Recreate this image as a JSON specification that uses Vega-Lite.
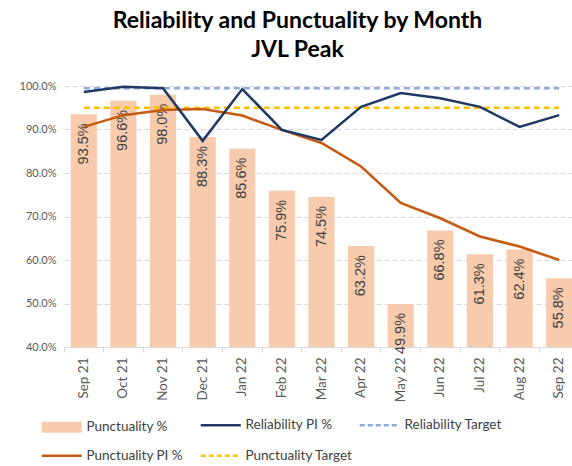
{
  "$schema": "https://vega.github.io/schema/vega-lite/v6.json",
  "width": 515,
  "height": 261,
  "autosize": {"type": "none"},
  "padding": {"left": 64, "top": 86, "right": -7, "bottom": 119},
  "background": "white",
  "title": {
    "text": ["Reliability and Punctuality by Month", "JVL Peak"],
    "font": "Lato",
    "fontSize": 23,
    "fontWeight": "bold",
    "color": "#000000",
    "lineHeight": 29,
    "anchor": "middle",
    "offset": 18,
    "dx": -24
  },
  "config": {
    "view": {"stroke": null},
    "axis": {"labelFont": "Lato", "labelColor": "#595959", "titleFont": "Lato"},
    "legend": {"labelFont": "Lato"}
  },
  "data": {
    "values": [
      {"month": "Sep 21", "punct": 0.935, "rel": 0.986, "ppi": 0.906, "relT": 0.995, "punT": 0.95},
      {"month": "Oct 21", "punct": 0.966, "rel": 0.998, "ppi": 0.933, "relT": 0.995, "punT": 0.95},
      {"month": "Nov 21", "punct": 0.980, "rel": 0.995, "ppi": 0.945, "relT": 0.995, "punT": 0.95},
      {"month": "Dec 21", "punct": 0.883, "rel": 0.874, "ppi": 0.947, "relT": 0.995, "punT": 0.95},
      {"month": "Jan 22", "punct": 0.856, "rel": 0.993, "ppi": 0.932, "relT": 0.995, "punT": 0.95},
      {"month": "Feb 22", "punct": 0.759, "rel": 0.899, "ppi": 0.899, "relT": 0.995, "punT": 0.95},
      {"month": "Mar 22", "punct": 0.745, "rel": 0.876, "ppi": 0.869, "relT": 0.995, "punT": 0.95},
      {"month": "Apr 22", "punct": 0.632, "rel": 0.952, "ppi": 0.815, "relT": 0.995, "punT": 0.95},
      {"month": "May 22", "punct": 0.499, "rel": 0.984, "ppi": 0.731, "relT": 0.995, "punT": 0.95},
      {"month": "Jun 22", "punct": 0.668, "rel": 0.972, "ppi": 0.696, "relT": 0.995, "punT": 0.95},
      {"month": "Jul 22", "punct": 0.613, "rel": 0.952, "ppi": 0.654, "relT": 0.995, "punT": 0.95},
      {"month": "Aug 22", "punct": 0.624, "rel": 0.906, "ppi": 0.631, "relT": 0.995, "punT": 0.95},
      {"month": "Sep 22", "punct": 0.558, "rel": 0.933, "ppi": 0.600, "relT": 0.995, "punT": 0.95}
    ]
  },
  "encoding": {
    "x": {
      "field": "month",
      "type": "nominal",
      "sort": null,
      "scale": {"paddingInner": 0, "paddingOuter": 0},
      "axis": {
        "title": null,
        "labelAngle": -90,
        "labelFontSize": 13.5,
        "labelPadding": 5,
        "domainColor": "#d9d9d9",
        "tickColor": "#d9d9d9",
        "tickSize": 5,
        "bandPosition": 0,
        "grid": false
      }
    }
  },
  "layer": [
    {
      "mark": {"type": "bar", "color": "#F8CBAD", "width": {"band": 0.66}},
      "encoding": {
        "y": {
          "field": "punct",
          "type": "quantitative",
          "scale": {"domain": [0.4, 1.0], "zero": false, "nice": false},
          "axis": {
            "title": null,
            "format": ".1%",
            "values": [0.4, 0.5, 0.6, 0.7, 0.8, 0.9, 1.0],
            "labelFontSize": 11,
            "labelPadding": 8,
            "domain": false,
            "ticks": false,
            "grid": true,
            "gridColor": "#d9d9d9",
            "gridDash": [5, 3],
            "gridWidth": 1
          }
        },
        "y2": {"datum": 0.4},
        "color": {
          "datum": "Punctuality %",
          "type": "nominal",
          "scale": {
            "domain": ["Punctuality %", "Reliability PI %", "Reliability Target", "Punctuality PI %", "Punctuality Target"],
            "range": ["#F8CBAD", "#1F3864", "#8FAADC", "#C55A11", "#FFC000"]
          },
          "legend": {
            "title": null,
            "orient": "none",
            "legendX": -9,
            "legendY": 332,
            "direction": "horizontal",
            "columns": 3,
            "gridAlign": "all",
            "columnPadding": 1,
            "rowPadding": 9,
            "symbolType": "M-2,-0.55M-2,0.55M-2,0H2",
            "symbolSize": 400,
            "symbolOpacity": 1,
            "labelOffset": 18,
            "labelFontSize": 13.5,
            "labelColor": "#404040",
            "labelLimit": 200,
            "encode": {
              "symbols": {
                "update": {
                  "shape": {"signal": "datum.value === 'Punctuality %' ? 'M-2,-0.55H2V0.55H-2Z' : 'M-2,-0.55M-2,0.55M-2,0H2'"},
                  "fill": {"signal": "datum.value === 'Punctuality %' ? '#F8CBAD' : 'transparent'"},
                  "stroke": {"scale": "color", "field": "value"},
                  "strokeWidth": {"signal": "datum.value === 'Punctuality %' ? 0 : 2.5"},
                  "strokeDash": {"signal": "(datum.value === 'Reliability Target' || datum.value === 'Punctuality Target') ? [5, 3] : [1, 0]"},
                  "opacity": {"value": 1}
                }
              }
            }
          }
        }
      }
    },
    {
      "mark": {"type": "text", "angle": 270, "align": "right", "baseline": "middle", "dx": -9, "font": "Liberation Sans", "fontSize": 14.5, "color": "#404040"},
      "encoding": {
        "y": {"field": "punct", "type": "quantitative"},
        "text": {"field": "punct", "type": "quantitative", "format": ".1%"}
      }
    },
    {
      "mark": {"type": "line", "strokeWidth": 2.5},
      "encoding": {
        "y": {"field": "relT", "type": "quantitative"},
        "color": {"datum": "Reliability Target", "type": "nominal"},
        "strokeDash": {"value": [6, 4]}
      }
    },
    {
      "mark": {"type": "line", "strokeWidth": 2.5},
      "encoding": {
        "y": {"field": "punT", "type": "quantitative"},
        "color": {"datum": "Punctuality Target", "type": "nominal"},
        "strokeDash": {"value": [6, 4]}
      }
    },
    {
      "mark": {"type": "line", "strokeWidth": 2.5},
      "encoding": {
        "y": {"field": "ppi", "type": "quantitative"},
        "color": {"datum": "Punctuality PI %", "type": "nominal"}
      }
    },
    {
      "mark": {"type": "line", "strokeWidth": 2.5},
      "encoding": {
        "y": {"field": "rel", "type": "quantitative"},
        "color": {"datum": "Reliability PI %", "type": "nominal"}
      }
    }
  ]
}
